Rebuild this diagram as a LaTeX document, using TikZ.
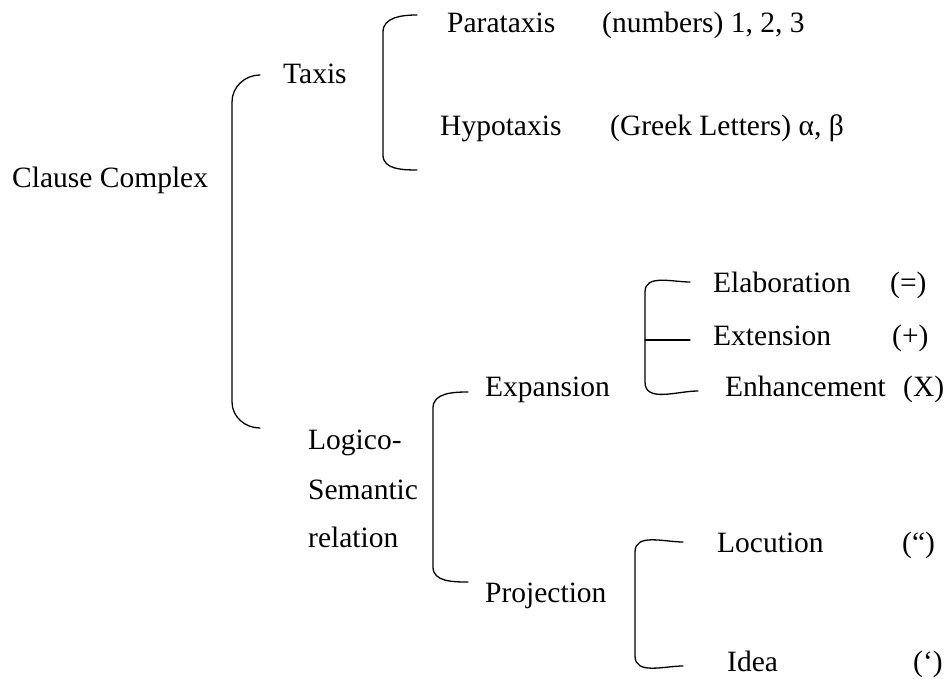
\documentclass[tikz,border=0pt]{standalone}
\usepackage{fontspec}
\setmainfont{Liberation Serif}
\begin{document}
\begin{tikzpicture}[x=1pt,y=-1pt,
  lbl/.style={anchor=base west,inner sep=0pt,font=\fontsize{29.5}{32}\selectfont},
  brk/.style={line width=1.3pt,line cap=round}]
\useasboundingbox (0,0) rectangle (948,679);
% texts
\node[lbl] (cc) at (12,188) {Clause Complex};
\node[lbl] (taxis) at (283,84) {Taxis};
\node[lbl] (para) at (447,33) {Parataxis};
\node[lbl] (paran) at (602,33) {(numbers) 1, 2, 3};
\node[lbl] (hypo) at (440,136) {Hypotaxis};
\node[lbl] (hypon) at (610,136) {(Greek Letters) α, β};
\node[lbl] (logico) at (308,449) {Logico-};
\node[lbl] (sem) at (308,499) {Semantic};
\node[lbl] (rel) at (308,547) {relation};
\node[lbl] (exp) at (485,396) {Expansion};
\node[lbl] (proj) at (485,602) {Projection};
\node[lbl] (elab) at (713,292) {Elaboration};
\node[lbl] (elabs) at (890,292) {(=)};
\node[lbl] (ext) at (713,345) {Extension};
\node[lbl] (exts) at (892,345) {(+)};
\node[lbl] (enh) at (725,396) {Enhancement};
\node[lbl] (enhs) at (903,396) {(X)};
\node[lbl] (loc) at (717,552) {Locution};
\node[lbl] (locs) at (902,552) {(“)};
\node[lbl] (idea) at (727,671) {Idea};
\node[lbl] (ideas) at (913,671) {(‘)};
% bracket end points
\coordinate (m1) at (260,75);
\coordinate (m2) at (260,428);
\coordinate (t1) at (417,15);
\coordinate (t2) at (417,170);
\coordinate (e1) at (468,392);
\coordinate (e2) at (468,582);
\coordinate (x1) at (690,282);
\coordinate (x2) at (690,340);
\coordinate (x3) at (698,391);
\coordinate (p1) at (683,542);
\coordinate (p2) at (683,666);
% brackets
\draw[brk] (m1) to[out=180,in=90] (232,102) -- (232,402) to[out=-90,in=180] (m2);
\draw[brk] (t1) to[out=180,in=90] (383,32) -- (383,155) to[out=-90,in=180] (t2);
\draw[brk] (e1) to[out=180,in=90] (433,408) -- (433,567) to[out=-90,in=180] (e2);
\draw[brk] (x1) to[out=180,in=90] (645,292) -- (645,382) to[out=-90,in=180] (x3);
\draw[brk] (645,340) -- (x2);
\draw[brk] (p1) to[out=180,in=90] (635,552) -- (635,656) to[out=-90,in=180] (p2);
\end{tikzpicture}
\end{document}
